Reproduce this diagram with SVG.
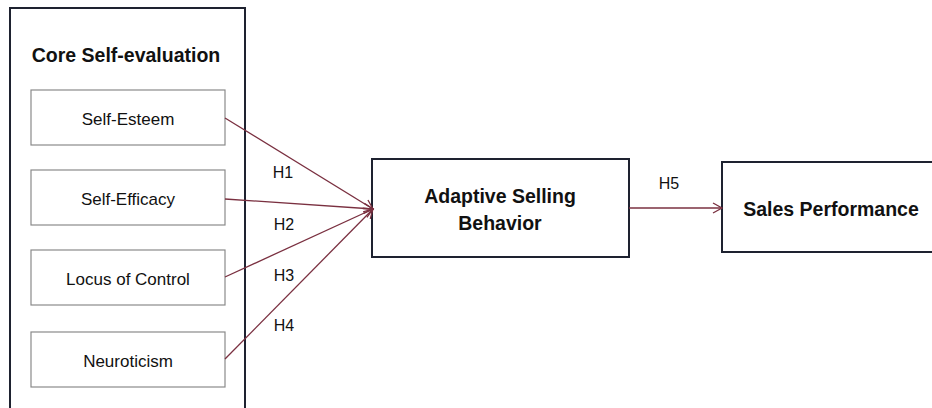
<svg xmlns="http://www.w3.org/2000/svg" width="932" height="408" viewBox="0 0 932 408">
<defs>
<style>
.outer{fill:#fff;stroke:#1e2230;stroke-width:2}
.inner{fill:#fff;stroke:#8a8a8a;stroke-width:1.2}
.main{fill:#fff;stroke:#1e2230;stroke-width:2}
.lbl{font-family:"Liberation Sans",Arial,sans-serif;font-size:17px;fill:#111;text-anchor:middle}
.bold{font-family:"Liberation Sans",Arial,sans-serif;font-size:19.5px;font-weight:bold;fill:#111;text-anchor:middle}
.h{font-family:"Liberation Sans",Arial,sans-serif;font-size:16px;fill:#111;text-anchor:middle}
.arr{stroke:#7a3040;stroke-width:1.3;fill:none;marker-end:url(#ah)}
</style>
<marker id="ah" markerWidth="12" markerHeight="12" refX="10" refY="6" orient="auto" markerUnits="userSpaceOnUse">
<path d="M1,1 L10,6 L1,11" fill="none" stroke="#7a3040" stroke-width="1.3"/>
</marker>
</defs>
<rect width="932" height="408" fill="#fff"/>
<g id="core">
<rect class="outer" x="10" y="8" width="235" height="410"/>
<text class="bold" x="126" y="62">Core Self-evaluation</text>
</g>
<g id="self-esteem">
<rect class="inner" x="31" y="90" width="194" height="55"/>
<text class="lbl" x="128" y="125">Self-Esteem</text>
</g>
<g id="self-efficacy">
<rect class="inner" x="31" y="170" width="194" height="55"/>
<text class="lbl" x="128" y="205">Self-Efficacy</text>
</g>
<g id="locus">
<rect class="inner" x="31" y="250" width="194" height="55"/>
<text class="lbl" x="128" y="285">Locus of Control</text>
</g>
<g id="neuroticism">
<rect class="inner" x="31" y="332" width="194" height="55"/>
<text class="lbl" x="128" y="367">Neuroticism</text>
</g>
<g id="asb">
<rect class="main" x="372" y="159" width="257" height="98"/>
<text class="bold" x="500" y="203">Adaptive Selling</text>
<text class="bold" x="500" y="230">Behavior</text>
</g>
<g id="sales">
<rect class="main" x="722" y="162" width="220" height="90"/>
<text class="bold" x="831" y="216">Sales Performance</text>
</g>
<g id="connectors">
<line class="arr" x1="225" y1="118" x2="373" y2="209"/>
<line class="arr" x1="225" y1="199" x2="373" y2="209"/>
<line class="arr" x1="225" y1="277" x2="373" y2="209"/>
<line class="arr" x1="225" y1="359" x2="373" y2="209"/>
<line class="arr" x1="629" y1="208" x2="722" y2="208"/>
<text class="h" x="283" y="178">H1</text>
<text class="h" x="284" y="230">H2</text>
<text class="h" x="284" y="281">H3</text>
<text class="h" x="284" y="331">H4</text>
<text class="h" x="669" y="189">H5</text>
</g>
</svg>
